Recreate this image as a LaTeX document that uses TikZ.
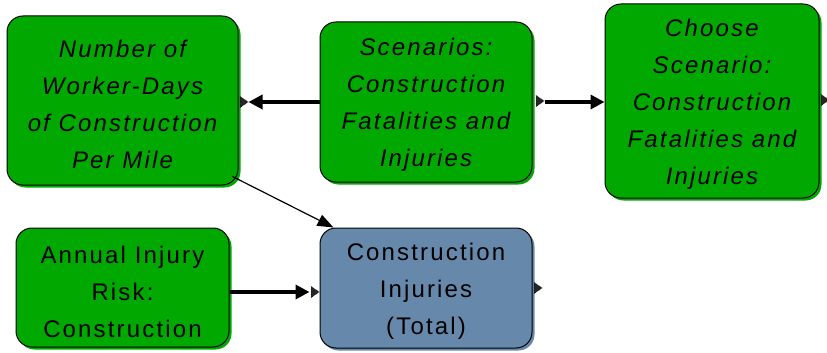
\documentclass[tikz,border=0pt]{standalone}
\usepackage{fontspec}
\setmainfont{Liberation Sans}[LetterSpace=9]
\usetikzlibrary{arrows.meta,shapes.geometric,shadows,calc}
\definecolor{ngreen}{RGB}{0,168,0}
\definecolor{nblue}{RGB}{102,136,170}
\begin{document}
\begin{tikzpicture}[x=1pt,y=-1pt,
  box/.style={draw=black, line width=1pt, rounded corners=16pt, inner sep=0pt},
  gbox/.style={box, fill=ngreen, drop shadow={shadow xshift=2.5pt, shadow yshift=-2.5pt, fill=ngreen, opacity=1}},
  bbox/.style={box, fill=nblue, drop shadow={shadow xshift=2.5pt, shadow yshift=-2.5pt, fill=nblue, opacity=1}},
  txt/.style={align=center, inner sep=0pt, font=\fontsize{24}{37}\selectfont},
  itxt/.style={txt, font=\fontsize{24}{37}\selectfont\itshape},
  thickarrow/.style={line width=4pt, -{Triangle[length=14pt,width=14pt]}},
  thinarrow/.style={line width=1.2pt, -{Triangle[length=16pt,width=12pt]}},
  bugmark/.style={isosceles triangle, isosceles triangle apex angle=70, inner sep=0pt,
    minimum height=8pt, minimum width=11pt, fill=black!85, draw=black, densely dotted, line width=0.6pt}
]
\useasboundingbox (0,0) rectangle (827,353);

\node[gbox, minimum width=231pt, minimum height=169pt] (A) at (122.5,100.5) {};
\node[gbox, minimum width=212pt, minimum height=160pt] (B) at (426,102) {};
\node[gbox, minimum width=214pt, minimum height=194pt] (C) at (712,101) {};
\node[gbox, minimum width=213pt, minimum height=119pt] (D) at (122.5,287.5) {};
\node[bbox, minimum width=212pt, minimum height=120pt] (E) at (426,288) {};

\node[itxt] (At) at ($(A.center)+(0,4)$) {Number of\\Worker-Days\\of Construction\\Per Mile};
\node[itxt] (Bt) at ($(B.center)+(0,3)$) {Scenarios:\\Construction\\Fatalities and\\Injuries};
\node[itxt] (Ct) at ($(C.center)+(0,3.5)$) {Choose\\Scenario:\\Construction\\Fatalities and\\Injuries};
\node[txt] (Dt) at ($(D.center)+(0,4)$) {Annual Injury\\Risk:\\Construction};
\node[txt] (Et) at ($(E.center)+(0,3)$) {Construction\\Injuries\\(Total)};

\draw[thickarrow, shorten >=10pt] (B.west) -- (B.west -| A.east);
\draw[thickarrow, shorten <=12pt] (B.east) -- (B.east -| C.west);
\draw[thickarrow, shorten >=10pt] ([yshift=-4.5pt]D.east) -- ([yshift=-4.5pt]D.east -| E.west);
\coordinate (Astart) at ($(A.south east)+(-6,-9)$);
\coordinate (Eend) at ($(E.north west)+(14,0)$);
\draw[thinarrow] (Astart) -- (Eend);

\node[bugmark] (mA) at (243,102) {};
\node[bugmark] (mB) at (539,101) {};
\node[bugmark] (mC) at (824,100) {};
\node[bugmark] (mD) at (314,292) {};
\node[bugmark] (mE) at (537,288) {};
\end{tikzpicture}
\end{document}
